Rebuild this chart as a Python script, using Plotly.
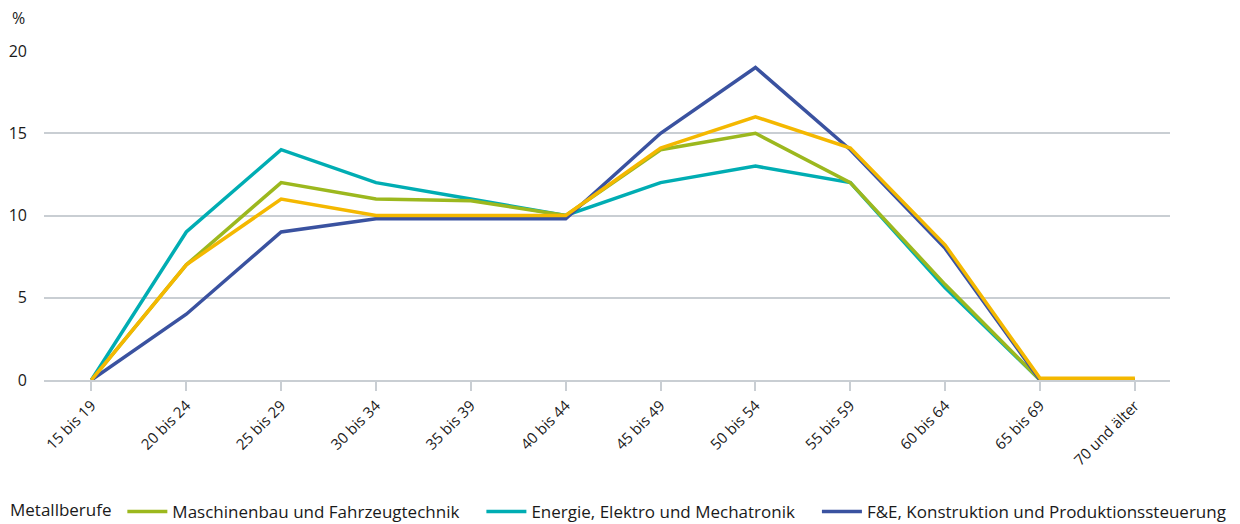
import plotly.graph_objects as go

categories = ["15 bis 19", "20 bis 24", "25 bis 29", "30 bis 34", "35 bis 39", "40 bis 44",
              "45 bis 49", "50 bis 54", "55 bis 59", "60 bis 64", "65 bis 69", "70 und älter"]

maschinenbau = [0, 7, 12, 11, 10.9, 10, 14, 15, 12, 5.8, 0, 0]
energie = [0, 9, 14, 12, 11, 10, 12, 13, 12, 5.6, 0, 0]
fue = [0, 4, 9, 9.8, 9.8, 9.8, 15, 19, 14, 8, 0, 0]
metallberufe = [0, 7, 11, 10, 10, 10, 14.1, 16, 14.1, 8.2, 0.1, 0.1]

names = {
    "maschinenbau": "Maschinenbau und Fahrzeugtechnik",
    "energie": "Energie, Elektro und Mechatronik",
    "fue": "F&E, Konstruktion und Produktionssteuerung",
}
colors = {
    "maschinenbau": "#9cb81e",
    "energie": "#00adb3",
    "fue": "#3a52a0",
    "metall": "#f4b800",
}
pad = "\u2002\u2002"

fig = go.Figure()
fig.add_trace(go.Scatter(x=categories, y=energie, mode="lines", name=names["energie"] + pad,
                         line=dict(color=colors["energie"], width=3.5), legendrank=2, cliponaxis=False))
fig.add_trace(go.Scatter(x=categories, y=maschinenbau, mode="lines", name=names["maschinenbau"] + pad,
                         line=dict(color=colors["maschinenbau"], width=3.5), legendrank=1, cliponaxis=False))
fig.add_trace(go.Scatter(x=categories, y=fue, mode="lines", name=names["fue"],
                         line=dict(color=colors["fue"], width=3.5), legendrank=3, cliponaxis=False))
fig.add_trace(go.Scatter(x=categories, y=metallberufe, mode="lines", name="Metallberufe",
                         line=dict(color=colors["metall"], width=3.5), showlegend=False, cliponaxis=False))

grid = "#c9ced3"
W, H = 1232, 516
fig.update_layout(
    width=W, height=H,
    margin=dict(l=36, r=70, t=43, b=144, autoexpand=False),
    paper_bgcolor="white", plot_bgcolor="white",
    font=dict(family="Open Sans", size=15, color="#1a1a1a"),
    xaxis=dict(
        type="category", range=[-0.5, 11.37], automargin=False,
        tickangle=-45, ticks="outside", ticklen=9, tickcolor=grid, tickwidth=1.5,
        showgrid=False, showline=True, linecolor=grid, linewidth=2,
        tickfont=dict(size=15),
    ),
    yaxis=dict(
        range=[0, 20], tickvals=[0, 5, 10, 15, 20], showgrid=True, gridcolor=grid, gridwidth=1.5,
        zeroline=False, showline=False, ticks="", ticklabelstandoff=16, automargin=False,
        tickfont=dict(size=16),
    ),
    legend=dict(
        orientation="h", xref="container", yref="container",
        x=0.0, xanchor="left", y=(H - 504) / H, yanchor="middle",
        title=dict(text="Metallberufe\u2009", font=dict(size=17), side="left"),
        font=dict(size=17), itemwidth=40, tracegroupgap=0,
    ),
    annotations=[dict(text="%", x=-26 / 1126, xref="paper", y=1.0, yref="paper", yshift=33,
                      showarrow=False, font=dict(size=16), xanchor="center", yanchor="middle")],
)

fig.write_html("out.html")
